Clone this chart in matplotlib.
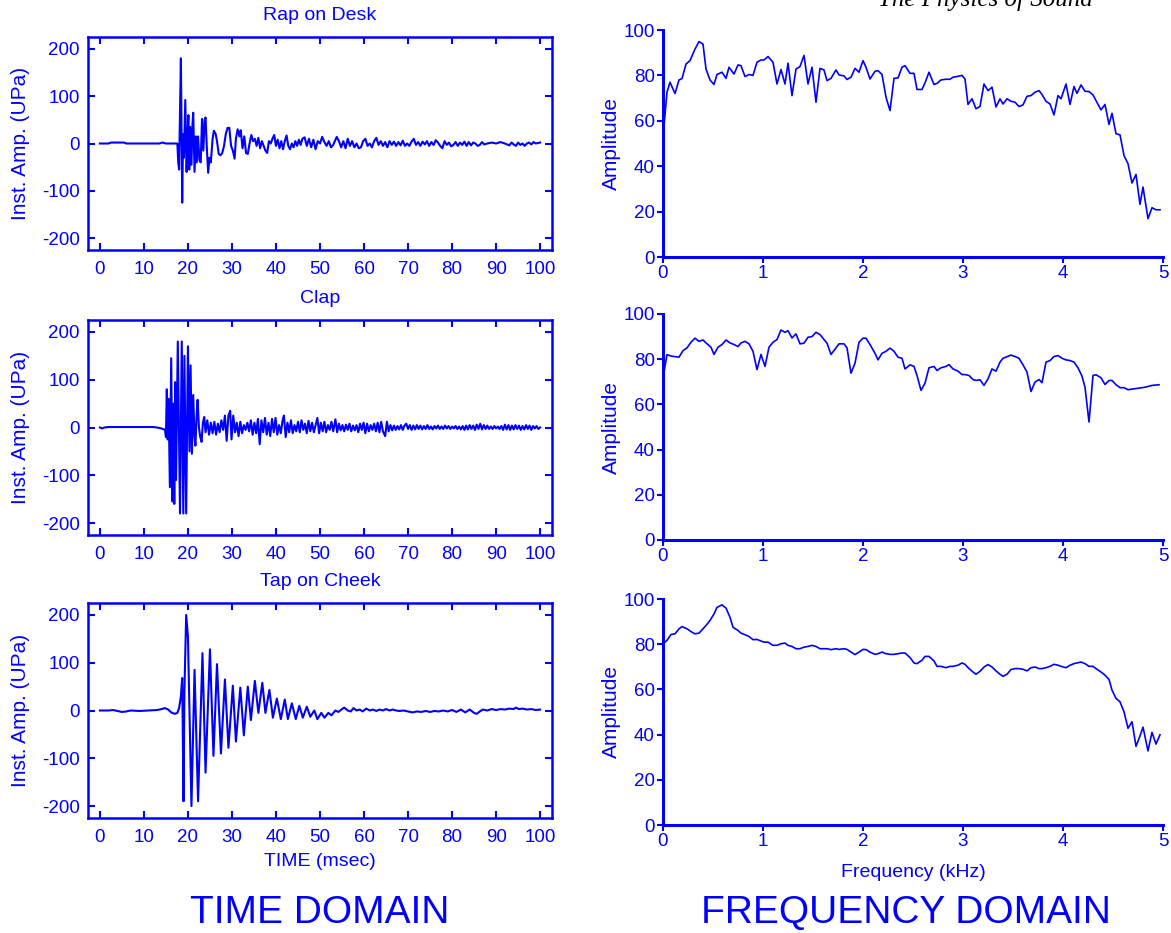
import matplotlib
matplotlib.use("Agg")
import matplotlib.pyplot as plt
import numpy as np

plt.rcParams['font.family'] = ['Liberation Sans', 'DejaVu Sans']
plt.rcParams['axes.unicode_minus'] = False

BLUE = '#0000FF'

# ---- time domain signals (msec, UPa) ----
rap_t = [0, 2, 2.5, 5.5, 6, 13.5, 14.2, 15, 17.6,
         17.8, 18.0, 18.1, 18.4, 18.7, 18.9, 19.1, 19.4, 19.7, 19.9, 20.1, 20.3, 20.5, 20.8,
         21.0, 21.2, 21.5, 21.8, 22.0, 22.3, 22.6, 22.9, 23.2, 23.5, 23.8, 24.0, 24.3, 24.6,
         24.9, 25.2, 25.6, 25.9, 26.3, 26.6, 27.0, 27.4, 27.8, 28.2, 28.6, 29.0, 29.4, 29.8,
         30.2, 30.6, 30.9, 31.3, 31.7, 32.0, 32.4, 32.8, 33.2, 33.6, 34.0, 34.4, 34.8, 35.2,
         35.6, 36.0, 36.4, 36.8, 37.2, 37.6, 38.0, 38.4, 38.8, 39.2, 39.6, 40.0, 40.4, 40.8,
         41.2, 41.6, 42.0, 42.4, 42.8, 43.2, 43.6, 44.0, 44.4, 44.8, 45.2, 45.6, 46.0, 46.5,
         47, 47.5, 48, 48.5, 49, 49.5, 50, 50.5, 51, 51.5, 52, 52.5, 53, 53.8, 54.3, 54.8,
         55.3, 55.8, 56.3, 56.8, 57.3, 57.8, 58.3, 58.8, 59.3, 59.8, 60.3, 60.8, 61.3, 61.8,
         62.3, 62.8, 63.3, 63.8, 64.3, 64.8, 65.3, 65.8, 66.3, 66.8, 67.3, 67.8, 68.3, 68.8,
         69.3, 69.8, 70.3, 70.8, 71.3, 71.8, 72.3, 72.8, 73.3, 73.8, 74.3, 74.8, 75.3, 75.8,
         76.3, 76.8, 77.3, 77.8, 78.3, 78.8, 79.3, 79.8, 80.3, 80.8, 81.3, 81.8, 82.3, 82.8,
         83.3, 83.8, 84.3, 84.8, 85.3, 85.8, 86.3, 86.8, 87.3, 88, 89, 90, 91, 92, 93, 93.5,
         94, 94.5, 95, 95.5, 96, 96.5, 97, 97.5, 98, 98.5, 99, 100]
rap_v = [0, 0, 2, 2, 0, 0, 2, 0, 0,
         -40, -55, 10, 180, -125, 20, -30, 92, -60, 10, 60, -55, 35, -45,
         35, 65, -60, 15, -40, 15, -35, -40, 52, -15, 50, 55, -10, -62,
         -30, -40, 10, 27, 20, 5, -22, -25, -20, -5, 20, 33, 33, -5,
         -15, -32, 10, 30, 15, 28, -10, 15, -20, -22, 0, 18, 5, 10,
         -5, 12, -10, 5, -5, -15, -20, 5, 0, 10, 18, -5, 8, -10,
         5, -12, 5, 17, -5, -12, 0, -8, 5, -5, 8, -3, 10, 13,
         -5, 10, -8, 8, -12, 5, 0, 14, 3, -5, 5, -8, -3, 14, 5, -8,
         5, -10, 10, -5, 5, -8, 0, -10, -8, 5, 10, -5, 0, -8,
         5, 12, -3, 5, -5, 3, -8, 5, -3, 4, -5, 3, -4, 6,
         -5, 0, -5, 4, 10, -3, 3, -5, 4, -2, 5, -5, 3, -3,
         7, 2, -5, -10, 5, -3, 2, -6, -3, 3, -5, 2, -3, 4,
         -5, 3, -4, 2, 0, -5, -3, 3, -2, 0, 2, 0, 3, 0, -4, 2,
         -2, -5, 2, -3, 0, -5, 0, 2, -2, 3, 0, 2]

clap_t = [0, 0.5, 1, 2, 12, 13, 14, 14.8, 15.0, 15.2, 15.4, 15.6, 15.9, 16.2, 16.5, 16.7,
          16.9, 17.1, 17.3, 17.7, 18.2, 18.6, 18.95, 19.2, 19.6, 20.0, 20.35, 20.6, 20.9,
          21.2, 21.5, 21.7, 22.0, 22.2, 22.5, 22.8, 23.1, 23.4, 23.7, 24.0, 24.4, 24.8,
          25.2, 25.6, 26.0, 26.4, 26.8, 27.2, 27.6, 28.0, 28.4, 28.8, 29.2, 29.6, 29.9,
          30.3, 30.7, 31.1, 31.5, 31.9, 32.3, 32.7, 33.1, 33.5, 33.9, 34.3, 34.7, 35.1,
          35.5, 35.9, 36.3, 36.7, 37.1, 37.5, 37.9, 38.3, 38.7, 39.1, 39.5, 39.9, 40.3,
          40.7, 41.1, 41.5, 41.8, 42.2, 42.6, 43.0, 43.4, 43.8, 44.2, 44.6, 45.0, 45.4,
          45.8, 46.2, 46.6, 47.0, 47.4, 47.8, 48.2, 48.6, 49.0, 49.4, 49.8, 50.2, 50.6,
          51.0, 51.4, 51.8, 52.2, 52.6, 53.0, 53.5, 53.9, 54.3, 54.7, 55.1, 55.5, 55.9,
          56.3, 56.7, 57.1, 57.5, 57.9, 58.3, 58.7, 59.1, 59.5, 59.9, 60.3, 60.7, 61.1,
          61.5, 61.9, 62.3, 62.7, 63.1, 63.5, 63.9, 64.3, 64.8, 65.2, 65.6, 66.0, 66.4,
          66.8, 67.2, 67.6, 68.0, 68.4, 68.8, 69.2, 69.6, 70.0, 70.4, 70.8, 71.2, 71.6,
          72.0, 72.4, 72.8, 73.2, 73.6, 74.0, 74.4, 74.8, 75.2, 75.6, 76.0, 76.4, 76.8,
          77.2, 77.6, 78.0, 78.4, 78.8, 79.2, 79.6, 80.0, 80.4, 80.8, 81.2, 81.6, 82.0,
          82.4, 82.8, 83.2, 83.6, 84.0, 84.4, 84.8, 85.2, 85.6, 86.0, 86.4, 86.8, 87.2,
          87.6, 88.0, 88.4, 88.8, 89.2, 89.6, 90.0, 90.4, 90.8, 91.2, 91.6, 92.0, 92.4,
          92.8, 93.2, 93.6, 94.0, 94.4, 94.8, 95.2, 95.6, 96.0, 96.4, 96.8, 97.2, 97.6,
          98.0, 98.4, 98.8, 99.2, 99.6, 100]
clap_v = [0, -2, 0, 1, 1, 0, -2, -5, -20, 80, -25, 60, -125, 145, -155, 50,
          -160, 95, -110, 180, -180, 180, -180, 150, -180, 170, -50, 130, -55,
          68, -20, -38, 30, 58, 0, -20, -30, 10, 22, -10, 15, -15,
          10, -12, 12, -15, 8, -10, 15, -5, 25, -28, 25, 35, -25,
          25, -10, 10, -18, 12, -12, 5, -5, 10, -8, 15, -15, 10,
          -12, 18, -35, 15, -10, 20, -15, 10, -18, 18, -10, 20, -15,
          5, -12, 15, 25, -20, 10, -10, 15, -12, 5, -8, 12, -10,
          15, -5, 8, -12, 14, -8, 10, -10, 5, 20, -12, 10, -8,
          12, -10, 5, -5, 12, -8, 17, -10, 8, -6, 5, -8, 6,
          -5, 8, -8, 4, -6, 5, -10, 8, -5, 10, -12, 8, -8,
          5, -5, 8, -8, 10, -10, 12, -8, -18, 12, -8, 5, -6,
          4, -5, 3, -4, 5, -5, 4, 8, -3, 5, -5, 4, -4,
          5, -3, 4, -4, 3, -3, 5, -3, 2, -4, 3, -2, 4,
          -3, 2, -3, 4, -2, 3, -3, 2, -2, 3, -3, 2, -4,
          3, -5, 4, -4, 5, -3, 4, -5, 6, -3, 8, -4, 5,
          -3, 4, -3, 2, -3, 3, -2, 2, -3, 3, -5, 6, -4,
          5, -5, 4, -4, 5, -3, 4, -5, 3, -4, 5, -3, 4,
          -5, 3, -2, 3, -3, 0]

tap_t = [0, 2, 3, 4, 5, 6, 7, 9, 11, 13, 14, 14.8, 15.5, 16.2, 17.0, 17.6, 18.0, 18.4,
         18.7, 19.0, 19.2, 19.6, 20.0, 20.8, 21.5, 22.3, 23.3, 24.0, 25.0, 25.8, 26.6,
         27.5, 28.4, 29.2, 30.2, 30.9, 31.9, 32.7, 33.6, 34.3, 35.2, 36.0, 36.9, 37.6,
         38.5, 39.3, 40.2, 41.1, 42.0, 42.7, 43.6, 44.5, 45.3, 46.1, 47.0, 47.8, 48.7,
         49.4, 50.3, 51.0, 51.9, 52.6, 53.5, 54.2, 55.0, 55.5, 56.3, 57.0, 57.6, 58.3,
         59.0, 59.7, 60.5, 61.3, 62.0, 62.8, 63.5, 64.3, 65.0, 65.8, 66.5, 67.3, 68.0,
         69, 70, 71, 72, 73, 74, 75, 76, 77, 78, 79, 80, 81, 82, 83, 84, 85, 85.6, 86.3,
         87, 88, 89, 90, 91, 92, 93, 94, 94.5, 95.2, 96, 97, 98, 99, 100]
tap_v = [0, 0, 1, -1, -3, -2, 0, -1, 0, 1, 3, 5, 2, -4, -7, -5, 5, 30,
         68, -190, 40, 200, 155, -200, 85, -190, 120, -130, 128, -95, 97,
         -90, 65, -78, 52, -65, 48, -52, 50, -20, 62, -5, 58, -5,
         43, -15, 25, -18, 23, -18, 15, -18, 10, -15, 8, -13, 0,
         -18, -5, -15, -5, -10, 0, -3, 3, 6, 0, -2, 5, 0,
         2, -2, 4, 0, 2, -1, 2, 0, 3, 0, 2, 0, -1,
         0, -2, -4, -2, -3, -1, -3, -1, -2, 0, -2, 1, -3, 2, -4, 2, -5, -7, -2,
         2, 0, 3, 1, 3, 2, 4, 3, 6, 3, 4, 2, 3, 1, 2]

# ---- frequency domain spectra (kHz, amplitude) ----
rap_f = [0, 0.04, 0.07, 0.12, 0.16, 0.19, 0.23, 0.27, 0.32, 0.36, 0.4, 0.43, 0.47, 0.51,
         0.54, 0.59, 0.63, 0.66, 0.71, 0.75, 0.78, 0.82, 0.86, 0.9, 0.94, 0.98, 1.01, 1.05,
         1.1, 1.14, 1.18, 1.22, 1.25, 1.29, 1.33, 1.37, 1.41, 1.45, 1.49, 1.53, 1.57, 1.61,
         1.64, 1.68, 1.73, 1.76, 1.81, 1.84, 1.88, 1.92, 1.96, 2.0, 2.03, 2.07, 2.12, 2.15,
         2.19, 2.23, 2.27, 2.31, 2.35, 2.39, 2.42, 2.47, 2.51, 2.54, 2.59, 2.62, 2.66, 2.71,
         2.74, 2.78, 2.83, 2.87, 2.9, 2.95, 2.99, 3.02, 3.05, 3.09, 3.13, 3.17, 3.21, 3.25,
         3.29, 3.33, 3.37, 3.4, 3.44, 3.48, 3.52, 3.56, 3.6, 3.64, 3.68, 3.72, 3.76, 3.79,
         3.83, 3.87, 3.91, 3.95, 3.98, 4.03, 4.07, 4.11, 4.14, 4.18, 4.22, 4.26, 4.3, 4.33,
         4.38, 4.42, 4.46, 4.49, 4.53, 4.57, 4.61, 4.65, 4.69, 4.73, 4.77, 4.8, 4.85, 4.89,
         4.93, 4.97]
rap_amp = [53, 72.6, 77, 72, 78, 78.6, 85, 86.5, 91.6, 94.9, 93.8, 82.8, 78, 76,
           80.4, 81.4, 78.7, 83.6, 80.6, 84.6, 84.3, 79.5, 80.4, 80, 85.8, 86.8, 86.8, 88.3,
           85.8, 76.2, 82.6, 76.2, 85.4, 71.1, 82.8, 83.9, 88.8, 76.2, 83.6, 68.2, 83.1, 82.4,
           77.7, 78.7, 82.4, 80.2, 79.8, 78.2, 79.2, 83.1, 81.4, 86.5, 83.6, 78.4, 81.8, 82.1,
           80.4, 70.4, 64.5, 78.7, 78.9, 83.6, 84.3, 80.9, 80.9, 73.8, 73.8, 76.7, 81.4, 76,
           76.5, 78, 78.3, 78.3, 79.2, 79.6, 80, 78.4, 67.2, 69.7, 65.3, 66.3, 76.2, 73.3,
           74.8, 66.1, 69.7, 67.4, 69.7, 68.6, 68.2, 66.3, 67, 70.8, 71.1, 72.6, 73.3, 71.6,
           68.6, 67.4, 62.6, 71.1, 69.7, 76.2, 67.2, 75.1, 72.1, 75.8, 73, 72.9, 71.4, 68.9,
           64.8, 67.2, 58.4, 63.3, 54.3, 53.8, 44.7, 41.1, 32.6, 36.4, 23.2, 30.8, 16.9, 21.7,
           20.8, 20.8]

clap_f = [0, 0.04, 0.09, 0.16, 0.2, 0.24, 0.28, 0.32, 0.36, 0.4, 0.43, 0.48, 0.51, 0.55,
          0.59, 0.63, 0.67, 0.71, 0.75, 0.78, 0.82, 0.86, 0.9, 0.94, 0.98, 1.02, 1.06, 1.1,
          1.14, 1.18, 1.22, 1.25, 1.29, 1.33, 1.37, 1.41, 1.45, 1.49, 1.53, 1.57, 1.61, 1.64,
          1.68, 1.73, 1.76, 1.81, 1.84, 1.88, 1.92, 1.96, 2.0, 2.03, 2.07, 2.12, 2.15, 2.19,
          2.23, 2.27, 2.31, 2.35, 2.39, 2.42, 2.47, 2.51, 2.54, 2.58, 2.62, 2.66, 2.71, 2.74,
          2.78, 2.83, 2.86, 2.9, 2.95, 2.99, 3.02, 3.06, 3.1, 3.13, 3.17, 3.21, 3.25, 3.29,
          3.33, 3.37, 3.4, 3.45, 3.48, 3.52, 3.56, 3.6, 3.64, 3.68, 3.72, 3.76, 3.79, 3.83,
          3.87, 3.91, 3.95, 3.99, 4.03, 4.07, 4.11, 4.15, 4.19, 4.22, 4.26, 4.3, 4.33, 4.38,
          4.42, 4.46, 4.49, 4.53, 4.57, 4.61, 4.65, 4.82, 4.89, 4.96]
clap_amp = [71.8, 82, 81.3, 80.9, 83.8, 85, 87.5, 89.3, 87.9, 88.5, 87.2, 85.3, 82.1, 85.3,
            86.5, 88.5, 87.2, 86.5, 85.6, 87.2, 87.9, 86.8, 83.5, 75.4, 82.1, 76.8, 85.3, 87.5,
            88.7, 92.9, 91.9, 92.6, 89.4, 91.2, 86.8, 87.1, 89.7, 90, 91.9, 90.9, 88.7, 87.1,
            82.1, 85, 86.8, 86.8, 85, 73.8, 78.2, 87.5, 89.3, 89.3, 86.5, 82.6, 79.7, 82.6,
            83.5, 84.9, 83.5, 80.9, 80.4, 75.7, 77.5, 76.8, 72.8, 66.2, 69.4, 76.2, 76.8, 75,
            76.2, 76.8, 77.6, 75.7, 74.7, 73.2, 73.2, 72.8, 71, 70.6, 70.9, 68.4, 71.3, 75.7,
            74.7, 78.7, 80.4, 81.3, 81.8, 81.2, 80.4, 77.5, 74.3, 65.7, 69.9, 71, 69.6, 78.7,
            79.4, 81.2, 81.6, 80.4, 79.7, 79.4, 78.7, 76.2, 72.5, 67.6, 52.2, 72.8, 73.1, 71.8,
            68.8, 70.6, 70.6, 68.7, 67.4, 67.4, 66.5, 67.6, 68.4, 68.7]

tap_f = [0, 0.04, 0.08, 0.12, 0.16, 0.19, 0.24, 0.29, 0.32, 0.36, 0.4, 0.43, 0.47, 0.51,
         0.54, 0.59, 0.63, 0.67, 0.7, 0.75, 0.78, 0.82, 0.86, 0.9, 0.94, 0.98, 1.01, 1.05,
         1.1, 1.14, 1.18, 1.22, 1.25, 1.29, 1.33, 1.37, 1.41, 1.45, 1.49, 1.53, 1.57, 1.61,
         1.64, 1.68, 1.73, 1.76, 1.81, 1.84, 1.88, 1.92, 1.96, 2.0, 2.03, 2.07, 2.12, 2.15,
         2.19, 2.23, 2.27, 2.31, 2.35, 2.39, 2.42, 2.47, 2.51, 2.54, 2.59, 2.62, 2.66, 2.71,
         2.74, 2.78, 2.83, 2.87, 2.9, 2.95, 2.99, 3.02, 3.06, 3.1, 3.13, 3.17, 3.21, 3.25,
         3.29, 3.33, 3.37, 3.4, 3.44, 3.48, 3.52, 3.56, 3.6, 3.64, 3.68, 3.72, 3.76, 3.79,
         3.83, 3.87, 3.91, 3.95, 3.98, 4.03, 4.07, 4.11, 4.14, 4.18, 4.22, 4.26, 4.3, 4.33,
         4.38, 4.42, 4.46, 4.49, 4.53, 4.57, 4.61, 4.65, 4.69, 4.73, 4.77, 4.8, 4.85, 4.89,
         4.93, 4.97]
tap_amp = [80.2, 81.7, 84.3, 84.6, 86.8, 87.8, 86.8, 85.3, 84.6, 84.9, 86.8, 88.3, 90.5, 93.4,
           96.3, 97.4, 96, 91.9, 87.5, 86.1, 84.9, 84.2, 83.4, 82, 82.1, 81.4, 80.9, 80.9,
           79.5, 79.5, 80.2, 80.5, 79.5, 79, 78, 78, 78.7, 79, 79.5, 79, 78, 78,
           78, 77.6, 78, 77.7, 78, 77.7, 76.5, 75.4, 76.5, 77.7, 77.6, 76.5, 75.5, 75.8,
           76.5, 75.8, 75.5, 75.5, 75.8, 76.1, 76.1, 74.1, 71.7, 71.4, 72.9, 74.6, 74.6, 72.6,
           70.2, 70.2, 69.6, 70.2, 70.2, 70.7, 71.7, 71.1, 69.2, 67.7, 66.7, 68, 69.9, 71,
           69.9, 68.2, 66.7, 65.8, 66.7, 68.8, 69.2, 69.2, 68.9, 68.2, 69.6, 69.9, 69.2, 69.2,
           69.6, 70.2, 71.1, 70.7, 70.2, 69.6, 70.7, 71.4, 71.7, 72.1, 71.4, 70.2, 70.2, 69.2,
           67.7, 66.3, 64.4, 59.7, 56, 54.5, 50.1, 42.8, 45.7, 34.8, 39.4, 43.3, 32.8, 41,
           35.8, 39.9]

titles = ['Rap on Desk', 'Clap', 'Tap on Cheek']
time_series = [(rap_t, rap_v), (clap_t, clap_v), (tap_t, tap_v)]
freq_series = [(rap_f, rap_amp), (clap_f, clap_amp), (tap_f, tap_amp)]

W, H = 1171, 933
fig = plt.figure(figsize=(W / 100, H / 100), dpi=100)
fig.patch.set_facecolor('white')

# pixel boxes (top, bottom) for each row
left_rows = [(37, 250), (320, 535), (603, 818)]
right_rows = [(30, 257), (314, 540), (599, 825)]


def px_axes(x0, x1, y0, y1):
    return fig.add_axes([x0 / W, 1 - y1 / H, (x1 - x0) / W, (y1 - y0) / H])


for i in range(3):
    # time domain panel
    ax = px_axes(88, 552, *left_rows[i])
    t, v = time_series[i]
    ax.plot(t, v, color=BLUE, lw=1.5)
    ax.set_xlim(-2.7, 102.7)
    ax.set_ylim(-225, 225)
    ax.set_xticks(np.arange(0, 101, 10))
    ax.set_yticks([-200, -100, 0, 100, 200])
    ax.tick_params(direction='in', top=True, right=True, length=5, width=1.5,
                   colors=BLUE, labelsize=13.5)
    ax.tick_params(axis='x', pad=8)
    ax.tick_params(axis='y', pad=6)
    for s in ax.spines.values():
        s.set_color(BLUE)
        s.set_linewidth(1.8)
    ax.set_title(titles[i], color=BLUE, fontsize=14, pad=12)
    ax.set_ylabel('Inst. Amp. (UPa)', color=BLUE, fontsize=15)
    ax.yaxis.set_label_coords(-0.125, 0.5)
    if i == 2:
        ax.set_xlabel('TIME (msec)', color=BLUE, fontsize=14, labelpad=5)

    # frequency domain panel
    ax = px_axes(663, 1163, *right_rows[i])
    f, a = freq_series[i]
    ax.plot(f, a, color=BLUE, lw=1.2, clip_on=False)
    ax.set_xlim(0, 5)
    ax.set_ylim(0, 100)
    ax.set_xticks([0, 1, 2, 3, 4, 5])
    ax.set_yticks([0, 20, 40, 60, 80, 100])
    ax.tick_params(direction='out', length=4, width=1.5, colors=BLUE,
                   labelsize=13.5, pad=2)
    for side in ('top', 'right'):
        ax.spines[side].set_visible(False)
    for side in ('left', 'bottom'):
        ax.spines[side].set_color(BLUE)
        ax.spines[side].set_linewidth(2.2)
    ax.set_ylabel('Amplitude', color=BLUE, fontsize=15)
    ax.yaxis.set_label_coords(-0.084, 0.5)
    if i == 2:
        ax.set_xlabel('Frequency (kHz)', color=BLUE, fontsize=14, labelpad=10)

fig.text(320 / W, 1 - 913 / H, 'TIME DOMAIN', color=BLUE, fontsize=28,
         ha='center', va='center')
fig.text(906 / W, 1 - 913 / H, 'FREQUENCY DOMAIN', color=BLUE, fontsize=28,
         ha='center', va='center')
# running header of the source page, cut off at the top edge as in the original
fig.text(985 / W, 1 - 6 / H, 'The Physics of Sound', color='black', fontsize=18,
         family=['Liberation Serif', 'DejaVu Serif'], style='italic',
         ha='center', va='baseline')

fig.savefig('out.png', dpi=100)
